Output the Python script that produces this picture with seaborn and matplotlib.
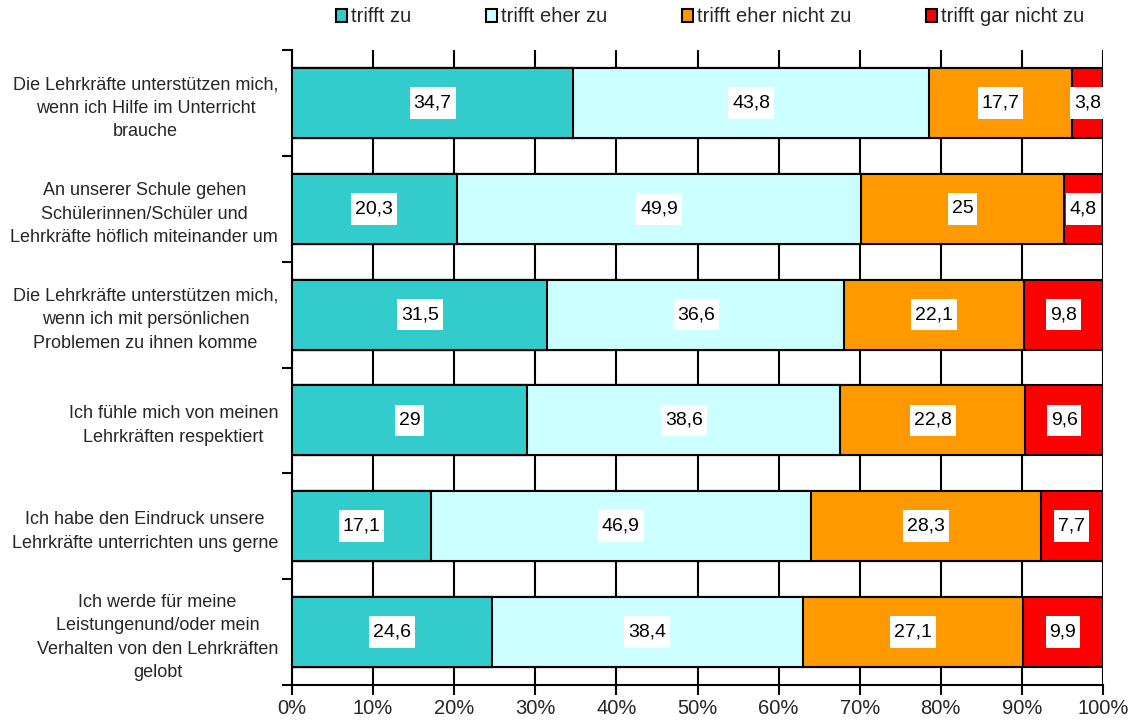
import matplotlib
matplotlib.use("Agg")
import matplotlib.pyplot as plt
from matplotlib.patches import Patch
from matplotlib.path import Path
from matplotlib.ticker import FixedLocator, FuncFormatter
import seaborn as sns
import pandas as pd
import numpy as np

categories = [
    "Die Lehrkräfte unterstützen mich,\nwenn ich Hilfe im Unterricht\nbrauche",
    "An unserer Schule gehen\nSchülerinnen/Schüler und\nLehrkräfte höflich miteinander um",
    "Die Lehrkräfte unterstützen mich,\nwenn ich mit persönlichen\nProblemen zu ihnen komme",
    "Ich fühle mich von meinen\nLehrkräften respektiert",
    "Ich habe den Eindruck unsere\nLehrkräfte unterrichten uns gerne",
    "Ich werde für meine\nLeistungenund/oder mein\nVerhalten von den Lehrkräften\ngelobt",
]
series_names = ["trifft zu", "trifft eher zu", "trifft eher nicht zu", "trifft gar nicht zu"]
trifft_zu = [34.7, 20.3, 31.5, 29.0, 17.1, 24.6]
trifft_eher_zu = [43.8, 49.9, 36.6, 38.6, 46.9, 38.4]
trifft_eher_nicht_zu = [17.7, 25.0, 22.1, 22.8, 28.3, 27.1]
trifft_gar_nicht_zu = [3.8, 4.8, 9.8, 9.6, 7.7, 9.9]
colors = ["#33CCCC", "#CCFFFF", "#FF9900", "#FF0000"]

sns.set_style("white")
plt.rcParams["font.family"] = ["Liberation Sans", "DejaVu Sans"]

series = [trifft_zu, trifft_eher_zu, trifft_eher_nicht_zu, trifft_gar_nicht_zu]
vals = np.array(series)
cum = np.cumsum(vals, axis=0)

fig = plt.figure(figsize=(11.36, 7.24), dpi=100)
ax = fig.add_axes([292/1136, 1-685/724, (1103-292)/1136, (685-50)/724])

df = pd.DataFrame({"cat": categories})
for i in range(3, -1, -1):
    df["v"] = cum[i]
    sns.barplot(data=df, x="v", y="cat", orient="h", color=colors[i], width=0.66,
                edgecolor="black", linewidth=1.5, errorbar=None, saturation=1, ax=ax, zorder=3)


def label_box(x0, y0, width, height, mutation_size):
    px = 0.2 * mutation_size
    py = 0.38 * mutation_size
    xa, xb = x0 - px, x0 + width + px
    ya, yb = y0 - py, y0 + height + py
    return Path([(xa, ya), (xb, ya), (xb, yb), (xa, yb), (xa, ya)], closed=True)


def fmt(v):
    s = f"{v:.1f}"
    if s.endswith(".0"):
        s = s[:-2]
    return s.replace(".", ",")

for i in range(4):
    starts = cum[i] - vals[i]
    for j in range(len(categories)):
        ax.text(starts[j] + vals[i][j] / 2, j, fmt(vals[i][j]), ha="center", va="center",
                fontsize=14, color="black", zorder=5,
                bbox=dict(boxstyle=label_box, fc="white", ec="none"))

ax.set_xlim(0, 100)
ax.set_ylim(len(categories) - 0.5, -0.5)
ax.set_xticks(np.arange(0, 101, 10))
ax.xaxis.set_major_formatter(FuncFormatter(lambda v, p: f"{int(round(v))}%"))
ax.grid(axis="x", color="black", linewidth=1.5, zorder=0)
ax.set_axisbelow(True)
ax.set_xlabel("")
ax.set_ylabel("")

ax.yaxis.set_minor_locator(FixedLocator(np.arange(-0.5, len(categories), 1.0)))
ax.tick_params(axis="y", which="major", length=0, pad=10, labelsize=13)
ax.tick_params(axis="y", which="minor", length=7, width=1.5, color="black", direction="out", left=True)
ax.tick_params(axis="x", which="major", length=7, width=1.5, color="black", direction="out",
               bottom=True, labelsize=14.5, pad=3)
for lab in ax.get_yticklabels():
    lab.set_multialignment("center")
    lab.set_linespacing(1.5)

for s in ["top", "right"]:
    ax.spines[s].set_visible(False)
for s in ["left", "bottom"]:
    ax.spines[s].set_color("black")
    ax.spines[s].set_linewidth(1.5)

handles = [Patch(facecolor=c, edgecolor="black", linewidth=1.5) for c in colors]
fig.legend(handles, series_names, loc="center", bbox_to_anchor=(710/1136, 1-17/724), ncol=4,
           frameon=False, fontsize=14.5, handlelength=0.55, handleheight=0.6, handletextpad=0.2,
           columnspacing=3.7)

fig.savefig("out.png", dpi=100)
